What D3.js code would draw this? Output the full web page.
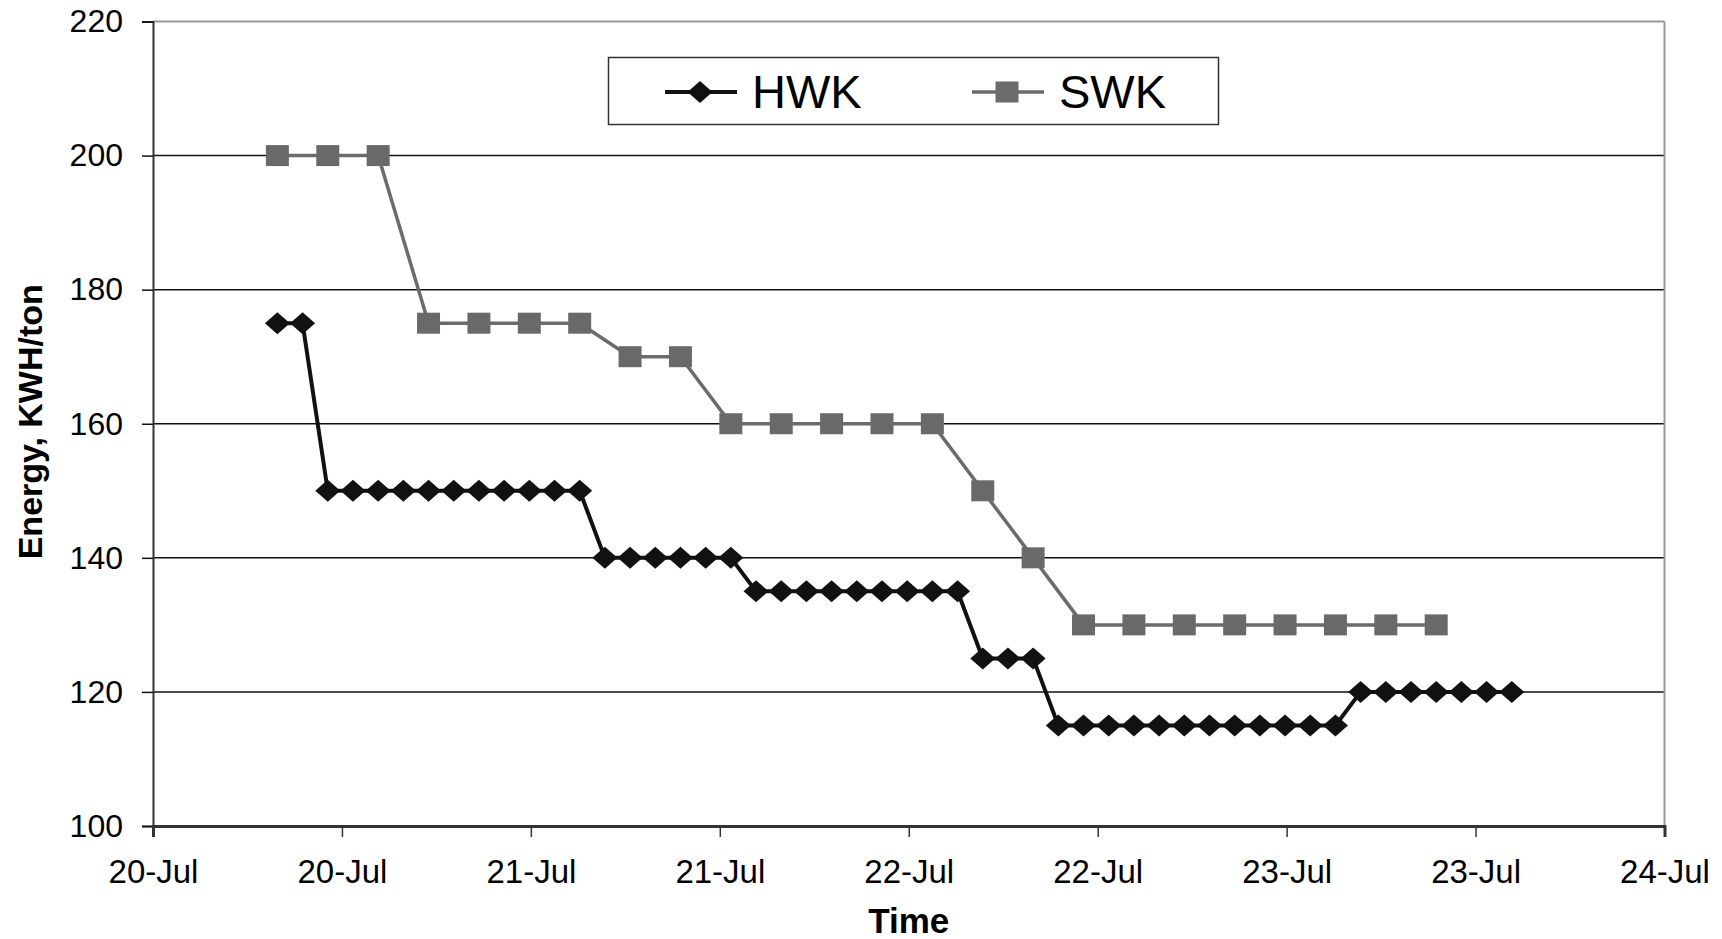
<!DOCTYPE html>
<html>
<head>
<meta charset="utf-8">
<script src="https://cdn.jsdelivr.net/npm/d3@7"></script>
<style>
  body { margin: 0; background: #fff; }
  svg { display: block; font-family: "Liberation Sans", Arial, sans-serif; }
</style>
</head>
<body>
<div id="chart"></div>
<script>
// hours after 20-Jul 00:00 for each reading
var hwkHours = [7.9, 9.5, 11.1, 12.7, 14.3, 15.9, 17.5, 19.1, 20.7, 22.3,
  23.9, 25.5, 27.1, 28.7, 30.3, 31.9, 33.5, 35.1, 36.7, 38.3,
  39.9, 41.5, 43.1, 44.7, 46.3, 47.9, 49.5, 51.1, 52.7, 54.3,
  55.9, 57.5, 59.1, 60.7, 62.3, 63.9, 65.5, 67.1, 68.7, 70.3,
  71.9, 73.5, 75.1, 76.7, 78.3, 79.9, 81.5, 83.1, 84.7, 86.3];
var hwkValues = [175, 175,
  150, 150, 150, 150, 150, 150, 150, 150, 150, 150, 150,
  140, 140, 140, 140, 140, 140,
  135, 135, 135, 135, 135, 135, 135, 135, 135,
  125, 125, 125,
  115, 115, 115, 115, 115, 115, 115, 115, 115, 115, 115, 115,
  120, 120, 120, 120, 120, 120, 120];

var swkHours = [7.9, 11.1, 14.3, 17.5, 20.7, 23.9, 27.1, 30.3, 33.5, 36.7,
  39.9, 43.1, 46.3, 49.5, 52.7, 55.9, 59.1, 62.3, 65.5, 68.7,
  71.9, 75.1, 78.3, 81.5];
var swkValues = [200, 200, 200, 175, 175, 175, 175, 170, 170,
  160, 160, 160, 160, 160, 150, 140,
  130, 130, 130, 130, 130, 130, 130, 130];

var seriesNames = ['HWK', 'SWK'];
var yTicks = [100, 120, 140, 160, 180, 200, 220];
var startDate = Date.UTC(2008, 6, 20);
var endDate = Date.UTC(2008, 6, 24);

var width = 1722, height = 939;
var margin = { left: 153, right: 1722 - 1664.5, top: 21.5, bottom: 939 - 826 };

var svg = d3.select('#chart').append('svg')
  .attr('width', width)
  .attr('height', height);

var x = d3.scaleUtc()
  .domain([new Date(startDate), new Date(endDate)])
  .range([margin.left, width - margin.right]);

var y = d3.scaleLinear()
  .domain([100, 220])
  .range([height - margin.bottom, margin.top]);

function toPoints(hours, values) {
  return hours.map(function(h, i) {
    return { t: new Date(startDate + h * 3600 * 1000), v: values[i] };
  });
}
var hwk = toPoints(hwkHours, hwkValues);
var swk = toPoints(swkHours, swkValues);

// grid lines
svg.append('g')
  .selectAll('line')
  .data(yTicks.filter(function(d) { return d > 100 && d < 220; }))
  .enter().append('line')
    .attr('x1', margin.left).attr('x2', width - margin.right)
    .attr('y1', function(d) { return y(d); })
    .attr('y2', function(d) { return y(d); })
    .attr('stroke', '#111').attr('stroke-width', 1.5);

// frame top and right
svg.append('line')
  .attr('x1', margin.left).attr('x2', width - margin.right)
  .attr('y1', y(220)).attr('y2', y(220))
  .attr('stroke', '#999').attr('stroke-width', 2);
svg.append('line')
  .attr('x1', width - margin.right).attr('x2', width - margin.right)
  .attr('y1', y(220)).attr('y2', y(100))
  .attr('stroke', '#999').attr('stroke-width', 2);

// y axis
var yAxis = svg.append('g')
  .attr('transform', 'translate(' + margin.left + ',0)')
  .call(d3.axisLeft(y).tickValues(yTicks).tickSize(11).tickPadding(19));
yAxis.select('.domain').attr('stroke', '#333').attr('stroke-width', 2);
yAxis.selectAll('.tick line').attr('stroke', '#111').attr('stroke-width', 1.5);
yAxis.selectAll('.tick text')
  .attr('font-size', 32).attr('fill', '#000')
  .attr('font-family', '"Liberation Sans", Arial, sans-serif');

// x axis
var xAxis = svg.append('g')
  .attr('transform', 'translate(0,' + y(100) + ')')
  .call(d3.axisBottom(x)
    .ticks(d3.utcHour.every(12))
    .tickFormat(d3.utcFormat('%-d-%b'))
    .tickSize(11).tickPadding(23));
xAxis.select('.domain').attr('stroke', '#333').attr('stroke-width', 3);
xAxis.selectAll('.tick line').attr('stroke', '#333').attr('stroke-width', 1.5);
xAxis.selectAll('.tick text')
  .attr('font-size', 33).attr('fill', '#000')
  .attr('font-family', '"Liberation Sans", Arial, sans-serif');

// axis titles
svg.append('text')
  .attr('x', (margin.left + width - margin.right) / 2)
  .attr('y', 933)
  .attr('text-anchor', 'middle')
  .attr('font-size', 35).attr('font-weight', 'bold')
  .text('Time');

svg.append('text')
  .attr('transform', 'translate(42,' + ((y(100) + y(220)) / 2 - 2) + ') rotate(-90)')
  .attr('text-anchor', 'middle')
  .attr('font-size', 34).attr('font-weight', 'bold')
  .text('Energy, KWH/ton');

var line = d3.line()
  .x(function(d) { return x(d.t); })
  .y(function(d) { return y(d.v); });

var diamond = 'M0,-11L12.5,0L0,11L-12.5,0Z';
var square = 'M-11.5,-10.5H11.5V10.5H-11.5Z';

// SWK
svg.append('path').datum(swk)
  .attr('d', line)
  .attr('fill', 'none').attr('stroke', '#6b6b6b').attr('stroke-width', 3.5);
svg.append('g').selectAll('path')
  .data(swk).enter().append('path')
    .attr('d', square)
    .attr('transform', function(d) { return 'translate(' + x(d.t) + ',' + y(d.v) + ')'; })
    .attr('fill', '#696969');

// HWK
svg.append('path').datum(hwk)
  .attr('d', line)
  .attr('fill', 'none').attr('stroke', '#111').attr('stroke-width', 4);
svg.append('g').selectAll('path')
  .data(hwk).enter().append('path')
    .attr('d', diamond)
    .attr('transform', function(d) { return 'translate(' + x(d.t) + ',' + y(d.v) + ')'; })
    .attr('fill', '#111');

// legend
var legend = svg.append('g');
legend.append('rect')
  .attr('x', 608.5).attr('y', 57.5)
  .attr('width', 610).attr('height', 67)
  .attr('fill', '#fff').attr('stroke', '#333').attr('stroke-width', 1.5);

var legendItems = [
  { name: seriesNames[0], x: 665, color: '#111', width: 4, marker: diamond },
  { name: seriesNames[1], x: 972, color: '#6b6b6b', width: 3.5, marker: square }
];
legendItems.forEach(function(item) {
  legend.append('line')
    .attr('x1', item.x).attr('x2', item.x + 72)
    .attr('y1', 92).attr('y2', 92)
    .attr('stroke', item.color).attr('stroke-width', item.width);
  legend.append('path')
    .attr('d', item.marker)
    .attr('transform', 'translate(' + (item.x + 35) + ',92)')
    .attr('fill', item.color);
  legend.append('text')
    .attr('x', item.x + 87).attr('y', 108)
    .attr('font-size', 47).attr('fill', '#000')
    .text(item.name);
});
</script>
</body>
</html>
